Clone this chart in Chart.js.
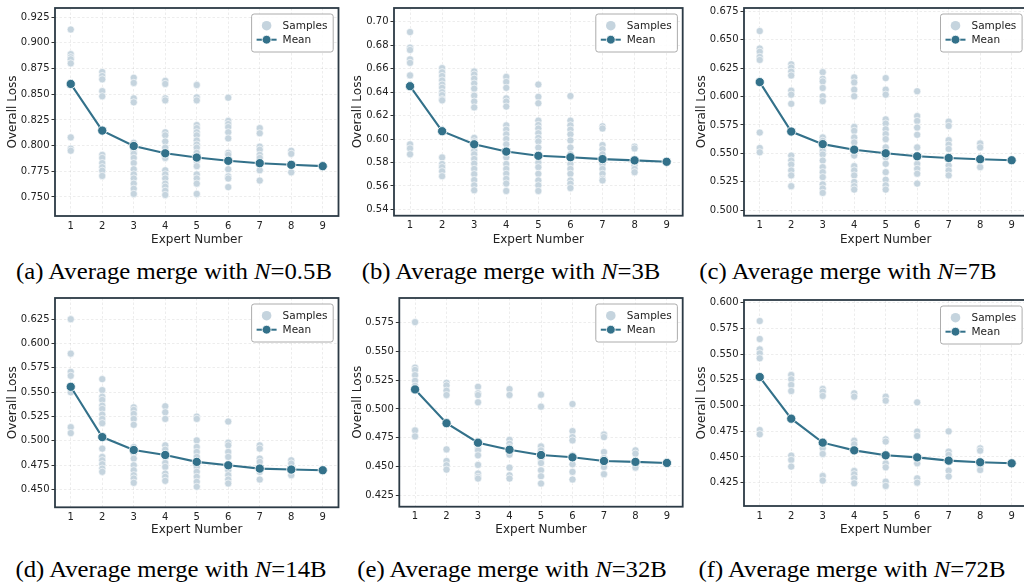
<!DOCTYPE html>
<html><head><meta charset="utf-8">
<script src="https://cdn.jsdelivr.net/npm/chart.js@4.4.1/dist/chart.umd.min.js"></script>
<style>
html,body{margin:0;padding:0;background:#fff;}
body{width:1024px;height:583px;overflow:hidden;position:relative;}
canvas{position:absolute;display:block;}
.cap{position:absolute;width:420px;text-align:center;font-family:'Liberation Serif','Times New Roman',serif;font-size:24px;line-height:24px;color:#000;white-space:nowrap;transform:scaleX(1.03);transform-origin:50% 50%;}
.cap i{font-style:italic;}
</style></head><body>
<canvas id="cA" width="345" height="250" style="left:0px;top:0px;"></canvas>
<canvas id="cB" width="345" height="250" style="left:345px;top:0px;"></canvas>
<canvas id="cC" width="345" height="250" style="left:690px;top:0px;"></canvas>
<canvas id="cD" width="345" height="250" style="left:0px;top:290px;"></canvas>
<canvas id="cE" width="345" height="250" style="left:345px;top:290px;"></canvas>
<canvas id="cF" width="345" height="250" style="left:690px;top:290px;"></canvas>
<div class="cap" style="left:-36px;top:259px;">(a) Average merge with <i>N</i>=0.5B</div>
<div class="cap" style="left:301px;top:259px;">(b) Average merge with <i>N</i>=3B</div>
<div class="cap" style="left:638px;top:259px;">(c) Average merge with <i>N</i>=7B</div>
<div class="cap" style="left:-39px;top:557px;">(d) Average merge with <i>N</i>=14B</div>
<div class="cap" style="left:302px;top:557px;">(e) Average merge with <i>N</i>=32B</div>
<div class="cap" style="left:642px;top:557px;">(f) Average merge with <i>N</i>=72B</div>
<script>
// ---------------- data ----------------
const xTicks = [1, 2, 3, 4, 5, 6, 7, 8, 9];

const yLabelsA = ["0.750", "0.775", "0.800", "0.825", "0.850", "0.875", "0.900", "0.925"];
const yLabelsB = ["0.54", "0.56", "0.58", "0.60", "0.62", "0.64", "0.66", "0.68", "0.70"];
const yLabelsC = ["0.500", "0.525", "0.550", "0.575", "0.600", "0.625", "0.650", "0.675"];
const yLabelsD = ["0.450", "0.475", "0.500", "0.525", "0.550", "0.575", "0.600", "0.625"];
const yLabelsE = ["0.425", "0.450", "0.475", "0.500", "0.525", "0.550", "0.575"];
const yLabelsF = ["0.425", "0.450", "0.475", "0.500", "0.525", "0.550", "0.575", "0.600"];

const meanA = [0.860, 0.8146, 0.7996, 0.7925, 0.7884, 0.7852, 0.7829, 0.7813, 0.7800];
const samplesA = [
  [0.913, 0.889, 0.886, 0.884, 0.880, 0.808, 0.797, 0.795],
  [0.8716, 0.8677, 0.8645, 0.853, 0.848, 0.791, 0.788, 0.783, 0.779, 0.7756, 0.7705],
  [0.866, 0.861, 0.846, 0.8421, 0.8028, 0.800, 0.797, 0.794, 0.792, 0.788, 0.783, 0.777, 0.772, 0.768, 0.763, 0.758, 0.753],
  [0.863, 0.860, 0.846, 0.844, 0.813, 0.810, 0.804, 0.798, 0.788, 0.776, 0.772, 0.768, 0.763, 0.760, 0.756, 0.752],
  [0.859, 0.847, 0.844, 0.820, 0.817, 0.813, 0.810, 0.805, 0.801, 0.798, 0.793, 0.785, 0.780, 0.772, 0.768, 0.763, 0.753],
  [0.8466, 0.824, 0.821, 0.818, 0.813, 0.807, 0.793, 0.791, 0.777, 0.770, 0.768, 0.7596],
  [0.817, 0.812, 0.799, 0.796, 0.791, 0.788, 0.776, 0.766],
  [0.795, 0.792, 0.774],
  [0.780]
];

const meanB = [0.6451, 0.6067, 0.5955, 0.5893, 0.5857, 0.5845, 0.5829, 0.5818, 0.5806];
const samplesB = [
  [0.6913, 0.678, 0.676, 0.668, 0.665, 0.6543, 0.5955, 0.592, 0.587],
  [0.6605, 0.657, 0.6538, 0.650, 0.6465, 0.6437, 0.640, 0.6375, 0.634, 0.633, 0.5843, 0.5787, 0.576, 0.5725, 0.5683],
  [0.6577, 0.655, 0.6515, 0.6473, 0.643, 0.637, 0.632, 0.627, 0.601, 0.598, 0.593, 0.590, 0.587, 0.583, 0.579, 0.5745, 0.570, 0.565, 0.5605, 0.5563],
  [0.653, 0.6487, 0.6437, 0.6347, 0.632, 0.6277, 0.6117, 0.608, 0.604, 0.600, 0.5955, 0.5885, 0.5843, 0.5787, 0.5745, 0.5703, 0.566, 0.562, 0.5557],
  [0.6465, 0.636, 0.6305, 0.6157, 0.612, 0.609, 0.605, 0.601, 0.598, 0.5927, 0.5871, 0.580, 0.576, 0.5703, 0.5647, 0.5605, 0.5557],
  [0.6367, 0.6157, 0.6117, 0.608, 0.604, 0.5988, 0.5927, 0.587, 0.5787, 0.5745, 0.5703, 0.5647, 0.5619, 0.5582],
  [0.6109, 0.609, 0.5949, 0.5913, 0.587, 0.5787, 0.5745, 0.5703, 0.566, 0.5647],
  [0.5935, 0.592, 0.5773, 0.5745, 0.5717],
  [0.5806]
];

const meanC = [0.6128, 0.5692, 0.5581, 0.5532, 0.5500, 0.5474, 0.5459, 0.5448, 0.5439];
const samplesC = [
  [0.6578, 0.6424, 0.6395, 0.635, 0.6323, 0.5683, 0.5547, 0.5509],
  [0.6285, 0.6256, 0.622, 0.6186, 0.6052, 0.6017, 0.5936, 0.548, 0.5436, 0.5401, 0.5349, 0.5305, 0.521],
  [0.6215, 0.6157, 0.6134, 0.6076, 0.6003, 0.596, 0.564, 0.561, 0.555, 0.552, 0.549, 0.5436, 0.5378, 0.5334, 0.529, 0.5227, 0.519, 0.5151],
  [0.6169, 0.6125, 0.6061, 0.6003, 0.5733, 0.5698, 0.564, 0.5596, 0.5523, 0.548, 0.5387, 0.5349, 0.5305, 0.5247, 0.521, 0.518],
  [0.6163, 0.6061, 0.6017, 0.5799, 0.5762, 0.5712, 0.5669, 0.5625, 0.5552, 0.5465, 0.5407, 0.5334, 0.5267, 0.5218, 0.518],
  [0.6047, 0.5828, 0.5785, 0.5727, 0.5663, 0.5552, 0.5407, 0.5363, 0.532, 0.5233],
  [0.5779, 0.5741, 0.5616, 0.5576, 0.5538, 0.5392, 0.5349, 0.5305],
  [0.5587, 0.5552, 0.5378],
  [0.5439]
];

const meanD = [0.5555, 0.5038, 0.4905, 0.4854, 0.4783, 0.4748, 0.4714, 0.4704, 0.4697];
const samplesD = [
  [0.625, 0.5896, 0.5709, 0.5668, 0.5498, 0.514, 0.5079],
  [0.5634, 0.5521, 0.5453, 0.542, 0.5361, 0.5327, 0.5269, 0.5225, 0.5181, 0.4919, 0.4834, 0.48, 0.4759, 0.4714, 0.4681],
  [0.5344, 0.5317, 0.5276, 0.5225, 0.5164, 0.4936, 0.4868, 0.4817, 0.4748, 0.4697, 0.4646, 0.4612, 0.4568],
  [0.5355, 0.5293, 0.5225, 0.4953, 0.4908, 0.4834, 0.4772, 0.4731, 0.4663, 0.4629, 0.4588],
  [0.5249, 0.5225, 0.5004, 0.4936, 0.4885, 0.4834, 0.4731, 0.4681, 0.4629, 0.4578, 0.4527],
  [0.5198, 0.498, 0.4953, 0.4885, 0.4834, 0.4697, 0.4646, 0.4602, 0.4561],
  [0.4953, 0.4919, 0.4817, 0.4783, 0.4681, 0.4602],
  [0.48, 0.4766, 0.4646],
  [0.4697]
];

const meanE = [0.517, 0.4876, 0.4706, 0.4645, 0.4599, 0.4579, 0.4547, 0.4539, 0.453];
const samplesE = [
  [0.5756, 0.536, 0.534, 0.5294, 0.5245, 0.5202, 0.4813, 0.4761],
  [0.5228, 0.5205, 0.5159, 0.5121, 0.4648, 0.4547, 0.451, 0.4472],
  [0.5193, 0.5136, 0.5121, 0.5058, 0.4712, 0.4668, 0.464, 0.4596, 0.4513, 0.4438, 0.4409, 0.4394],
  [0.5173, 0.5121, 0.4732, 0.4697, 0.4668, 0.4602, 0.4489, 0.4423, 0.4394],
  [0.5124, 0.502, 0.4674, 0.464, 0.4567, 0.4529, 0.4466, 0.4414, 0.4351],
  [0.5043, 0.4807, 0.4755, 0.4726, 0.4596, 0.4518, 0.4452, 0.4386],
  [0.4778, 0.4755, 0.4625, 0.4573, 0.4495, 0.4432],
  [0.464, 0.4611, 0.4489],
  [0.453]
];

const meanF = [0.5277, 0.4872, 0.4639, 0.4564, 0.4516, 0.4496, 0.4464, 0.4448, 0.4438];
const samplesF = [
  [0.5822, 0.5647, 0.5546, 0.5507, 0.5459, 0.4762, 0.472],
  [0.5297, 0.5255, 0.52, 0.5141, 0.4513, 0.4471, 0.4406],
  [0.5161, 0.5135, 0.5093, 0.4584, 0.4529, 0.4315, 0.427],
  [0.5119, 0.5086, 0.4658, 0.4623, 0.4364, 0.4331, 0.4292, 0.4244],
  [0.5086, 0.5047, 0.4671, 0.4649, 0.4438, 0.4399, 0.426, 0.4218],
  [0.5031, 0.4746, 0.4704, 0.4438, 0.4292, 0.425],
  [0.4749, 0.4552, 0.452, 0.4367, 0.4309],
  [0.4584, 0.4561, 0.4406, 0.4373],
  [0.4438]
];

// ---------------- styling ----------------
const FONT = "'DejaVu Sans', sans-serif";
const MEAN_COLOR = '#33718a';
const SAMPLE_COLOR = '#c5d4de';
const SPINE = '#2c3a45';
const GRID = 'rgba(0,0,0,0.09)';
const TXT = '#222222';

const boxPlugin = {
  id: 'boxLegend',
  afterDatasetsDraw(chart) {
    const ctx = chart.ctx, a = chart.chartArea;
    ctx.save();
    ctx.strokeStyle = SPINE; ctx.lineWidth = 1.8;
    ctx.strokeRect(a.left, a.top, a.right - a.left, a.bottom - a.top);
    const w = 81.6, h = 38, x = a.right - 5.3 - w, y = a.top + 6, r = 2.5;
    ctx.beginPath();
    ctx.moveTo(x + r, y); ctx.lineTo(x + w - r, y); ctx.arcTo(x + w, y, x + w, y + r, r);
    ctx.lineTo(x + w, y + h - r); ctx.arcTo(x + w, y + h, x + w - r, y + h, r);
    ctx.lineTo(x + r, y + h); ctx.arcTo(x, y + h, x, y + h - r, r);
    ctx.lineTo(x, y + r); ctx.arcTo(x, y, x + r, y, r); ctx.closePath();
    ctx.fillStyle = 'rgba(255,255,255,0.85)'; ctx.fill();
    ctx.strokeStyle = '#a3a3a3'; ctx.lineWidth = 0.9; ctx.stroke();
    // samples marker
    ctx.beginPath(); ctx.arc(x + 15, y + 11.7, 4.8, 0, Math.PI * 2);
    ctx.fillStyle = SAMPLE_COLOR; ctx.fill();
    // mean handle
    ctx.beginPath(); ctx.moveTo(x + 5, y + 25.7); ctx.lineTo(x + 25, y + 25.7);
    ctx.strokeStyle = MEAN_COLOR; ctx.lineWidth = 2; ctx.stroke();
    ctx.beginPath(); ctx.arc(x + 15, y + 25.7, 4.4, 0, Math.PI * 2);
    ctx.fillStyle = MEAN_COLOR; ctx.fill(); ctx.strokeStyle = '#fff'; ctx.lineWidth = 0.8; ctx.stroke();
    ctx.fillStyle = TXT; ctx.font = "10.5px 'DejaVu Sans', sans-serif";
    ctx.textBaseline = 'middle'; ctx.textAlign = 'left';
    ctx.fillText('Samples', x + 31, y + 12);
    ctx.fillText('Mean', x + 31, y + 26);
    ctx.restore();
  }
};

function makePanel(id, samples, mean, yLabels, yMin, yMax, g) {
  const yVals = yLabels.map(Number);
  const sampleData = [];
  samples.forEach((col, i) => col.forEach(v => sampleData.push({ x: xTicks[i], y: v })));
  const meanData = mean.map((v, i) => ({ x: xTicks[i], y: v }));
  new Chart(document.getElementById(id), {
    type: 'scatter',
    data: {
      datasets: [
        { label: 'Mean', type: 'line', data: meanData, order: 0, borderColor: MEAN_COLOR, borderWidth: 2.1,
          pointRadius: 4.6, pointHoverRadius: 4.6, pointBackgroundColor: MEAN_COLOR, pointBorderColor: '#ffffff',
          pointBorderWidth: 0.8, fill: false, tension: 0, showLine: true },
        { label: 'Samples', data: sampleData, order: 1, pointRadius: 3.6, pointHoverRadius: 3.6,
          backgroundColor: SAMPLE_COLOR, borderColor: '#ffffff', borderWidth: 0.6 }
      ]
    },
    options: {
      responsive: false, animation: false, events: [],
      layout: { padding: { top: g.pt, right: g.pr, bottom: 0, left: 0 } },
      plugins: { legend: { display: false }, tooltip: { enabled: false } },
      scales: {
        x: {
          type: 'linear', min: 0.5, max: 9.5,
          afterBuildTicks: s => { s.ticks = xTicks.map(v => ({ value: v })); },
          afterFit: s => { s.height = g.xh; },
          ticks: { padding: 4, font: { family: FONT, size: 10 }, color: TXT, autoSkip: false, maxRotation: 0,
                   callback: (v, i) => String(xTicks[i]) },
          grid: { color: GRID, lineWidth: 0.8, drawTicks: false },
          border: { display: false, dash: [2.5, 2] },
          title: { display: true, text: 'Expert Number', font: { family: FONT, size: 12 }, color: TXT,
                   padding: { top: 0, bottom: g.xtb } }
        },
        y: {
          type: 'linear', min: yMin, max: yMax,
          afterBuildTicks: s => { s.ticks = yVals.map(v => ({ value: v })); },
          afterFit: s => { s.width = g.yw; },
          ticks: { padding: 2, font: { family: FONT, size: 10 }, color: TXT, autoSkip: false,
                   callback: (v, i) => yLabels[i] },
          grid: { color: GRID, lineWidth: 0.8, drawTicks: true, tickLength: 3.5, tickColor: '#333333', tickWidth: 1 },
          border: { display: false, dash: [2.5, 2] },
          title: { display: true, text: 'Overall Loss', font: { family: FONT, size: 12 }, color: TXT,
                   padding: { top: g.ytp, bottom: 0 } }
        }
      }
    },
    plugins: [boxPlugin]
  });
}

makePanel('cA', samplesA, meanA, yLabelsA, 0.7315, 0.9339, { pt: 5, pr: 6.5, yw: 55, xh: 34, xtb: 3.3, ytp: 5.5 });
makePanel('cB', samplesB, meanB, yLabelsB, 0.5346, 0.7118, { pt: 5, pr: 7.3, yw: 49, xh: 34.3, xtb: 3.3, ytp: 5.5 });
makePanel('cC', samplesC, meanC, yLabelsC, 0.4950, 0.6781, { pt: 5.7, pr: 7.6, yw: 54, xh: 34.3, xtb: 3.3, ytp: 4.5 });
makePanel('cD', samplesD, meanD, yLabelsD, 0.4316, 0.6468, { pt: 6.7, pr: 6.5, yw: 55, xh: 32.7, xtb: 2.8, ytp: 5.5 });
makePanel('cE', samplesE, meanE, yLabelsE, 0.4149, 0.5966, { pt: 6.7, pr: 7.3, yw: 54.3, xh: 33.3, xtb: 2.8, ytp: 5.5 });
makePanel('cF', samplesF, meanF, yLabelsF, 0.4023, 0.6026, { pt: 10, pr: 7.6, yw: 54, xh: 34, xtb: 2.8, ytp: 4.5 });
</script>
</body></html>
